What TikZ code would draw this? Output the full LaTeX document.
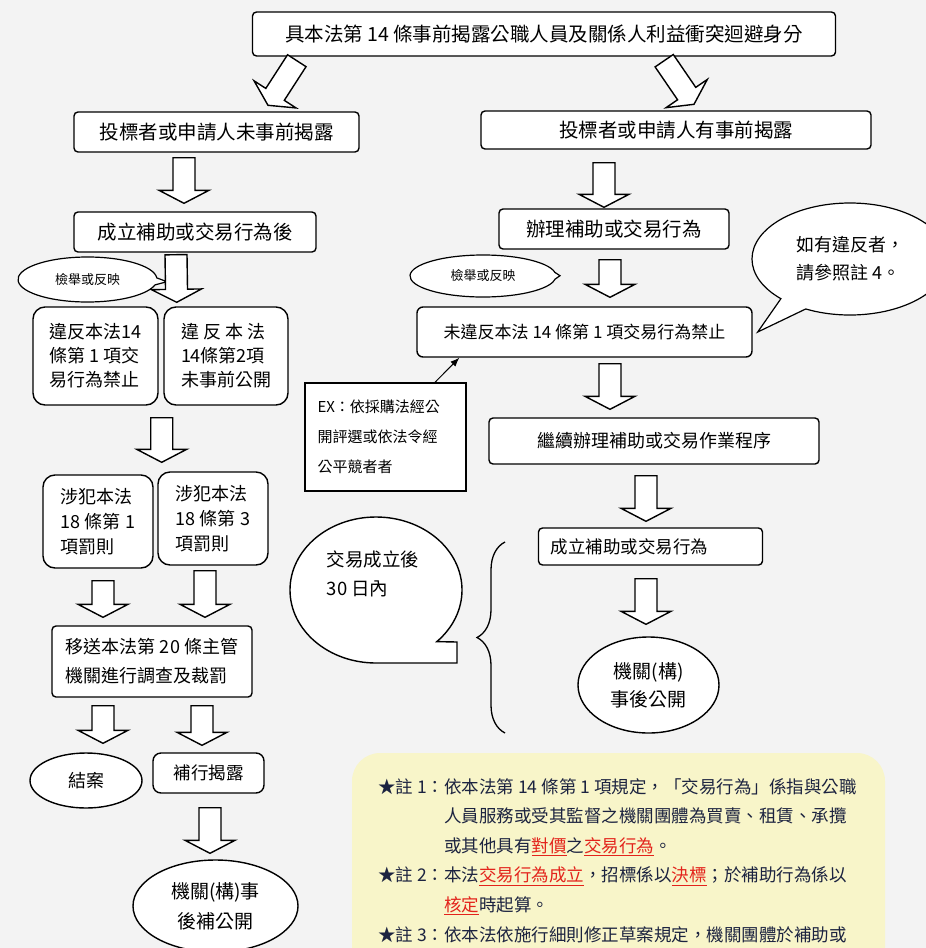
\documentclass[tikz,border=0pt]{standalone}
\usepackage{fontspec}
\setmainfont{Noto Sans CJK TC}
\usetikzlibrary{arrows.meta, positioning, calc, shapes.geometric, shapes.callouts, decorations.pathreplacing}

\definecolor{paper}{HTML}{F3F3F3}
\definecolor{notebg}{HTML}{F8F5C9}
\definecolor{notered}{HTML}{E3231B}
\definecolor{noteink}{HTML}{1C2340}

\newcommand{\redul}[1]{\textcolor{notered}{\underline{#1}}}
\newcommand{\hollowarrow}[2]{%
  \draw[blockarrow] let \p1=(#1), \p2=(#2), \n1={atan2(\y2-\y1,\x2-\x1)} in
    ($(\p1)+(\n1+90:11pt)$) -- ($(\p2)+(\n1+180:13pt)+(\n1+90:11pt)$)
    -- ($(\p2)+(\n1+180:13pt)+(\n1+90:25pt)$) -- (\p2)
    -- ($(\p2)+(\n1+180:13pt)+(\n1-90:25pt)$) -- ($(\p2)+(\n1+180:13pt)+(\n1-90:11pt)$)
    -- ($(\p1)+(\n1-90:11pt)$) -- cycle;}

\begin{document}
\begin{tikzpicture}[
    x=1pt, y=-1pt,
    box/.style={draw, fill=white, line width=1.4pt, rounded corners=4pt, inner sep=0pt, font=\fontsize{18}{24}\selectfont},
    bigbox/.style={box, font=\fontsize{19.5}{24}\selectfont},
    tallbox/.style={box, rounded corners=12pt, align=left},
    oval/.style={ellipse, draw, fill=white, line width=1.4pt, inner sep=0pt, align=center, font=\fontsize{18}{28}\selectfont},
    talk/.style={ellipse callout, draw, fill=white, line width=1.2pt, inner sep=0pt, callout pointer arc=18},
    blockarrow/.style={draw, fill=white, line width=1.4pt, line join=miter},
    notes/.style={inner sep=0pt, align=left, text=noteink, font=\fontsize{17.5}{29.6}\selectfont}
]
\useasboundingbox (0,0) rectangle (926,948);
\clip (0,0) rectangle (926,948);
\fill[paper] (0,0) rectangle (926,948);
\fill[notebg, rounded corners=28pt] (352,753) rectangle (885,990);

% 上方
\node[bigbox, minimum width=583pt, minimum height=44pt] (top) at (544,34) {具本法第 14 條事前揭露公職人員及關係人利益衝突迴避身分};
\node[bigbox, minimum width=285pt, minimum height=40pt] (nodisc) at (216.5,132) {投標者或申請人未事前揭露};
\node[bigbox, minimum width=390pt, minimum height=38pt] (disc) at (676,130) {投標者或申請人有事前揭露};
\node[bigbox, minimum width=242pt, minimum height=40pt] (after) at (195,232) {成立補助或交易行為後};
\node[bigbox, minimum width=230pt, minimum height=40pt] (handle) at (614,229) {辦理補助或交易行為};

% 左側
\node[tallbox, minimum width=125pt, minimum height=98pt] (vio1) at (95.5,356) {違反本法14\\條第 1 項交\\易行為禁止};
\node[tallbox, minimum width=124pt, minimum height=98pt] (vio2) at (226,356) {違 反 本 法\\14條第2項\\未事前公開};
\node[tallbox, minimum width=110pt, minimum height=93pt, font=\fontsize{18}{25}\selectfont] (pen1) at (98,521.5) {涉犯本法\\18 條第 1\\項罰則};
\node[tallbox, minimum width=110pt, minimum height=93pt, font=\fontsize{18}{25}\selectfont] (pen3) at (213,518.5) {涉犯本法\\18 條第 3\\項罰則};
\node[box, minimum width=200pt, minimum height=71pt, align=left, font=\fontsize{18}{29}\selectfont] (refer) at (152,661.5) {移送本法第 20 條主管\\機關進行調查及裁罰};
\node[oval, minimum width=112pt, minimum height=55pt] (close) at (86,780.5) {結案};
\node[box, minimum width=111pt, minimum height=40pt, rounded corners=8pt, font=\fontsize{17.5}{24}\selectfont] (supp) at (208.5,773) {補行揭露};
\node[oval, minimum width=165pt, minimum height=92pt, font=\fontsize{19}{30}\selectfont] (later) at (215.5,906) {機關(構)事\\後補公開};

% 右側
\node[box, minimum width=335pt, minimum height=50pt, rounded corners=6pt, font=\fontsize{17}{20}\selectfont] (novio) at (584.5,332) {未違反本法 14 條第 1 項交易行為禁止};
\node[box, sharp corners, minimum width=161pt, minimum height=108pt, text width=136pt, align=left, font=\fontsize{15}{30}\selectfont] (ex) at (385.5,437) {EX：依採購法經公\\開評選或依法令經\\公平競者者};
\node[box, minimum width=330pt, minimum height=46pt] (cont) at (654,441) {繼續辦理補助或交易作業程序};
\node[box, text width=200pt, align=left, inner xsep=12pt, minimum height=37pt, font=\fontsize{17.5}{22}\selectfont] (est) at (650.5,546.5) {成立補助或交易行為};
\node[oval, minimum width=141pt, minimum height=96pt, font=\fontsize{19}{28}\selectfont] (pub) at (648.5,685) {機關(構)\\事後公開};

% 對話框
\draw[line width=1.4pt, fill=white] (376,663) arc[start angle=90, end angle=405, x radius=86, y radius=73] -- (457,642) -- (457,663) -- cycle;
\node[align=left, font=\fontsize{18.5}{29}\selectfont] (within) at (373,574) {交易成立後\\30 日內};
\draw[decorate, decoration={brace, amplitude=28pt}, line width=1.3pt] (505,733) -- (505,542);

\node[talk, minimum width=139pt, minimum height=45pt, font=\fontsize{13}{13}\selectfont,
      callout absolute pointer={($(after.south)+(-28,29)$)}] (report1) at (87.5,279.5) {檢舉或反映};
\node[talk, minimum width=146pt, minimum height=42pt, font=\fontsize{13}{13}\selectfont,
      callout absolute pointer={($(handle.south)+(-54,26)$)}] (report2) at (483,276) {檢舉或反映};
\node[talk, minimum width=196pt, minimum height=112pt, align=left, font=\fontsize{18}{28}\selectfont,
      callout absolute pointer={([xshift=5pt]novio.east)}] (seenote) at (850,259) {如有違反者，\\請參照註 4。};

% 箭頭
\hollowarrow{$(top.south west)+(45,4)$}{$(nodisc.north)+(51.5,-6)$}
\hollowarrow{$(top.south east)+(-172,4)$}{$(disc.north)+(18,-6)$}
\hollowarrow{$(nodisc.south)+(-32.5,5)$}{$(after.north)+(-11,-8)$}
\hollowarrow{$(disc.south)+(-72,13)$}{$(handle.north)+(-10,-1)$}
\hollowarrow{$(after.south)+(-19,2)$}{$(vio1.north east)+(18,-4)$}
\hollowarrow{$(handle.south)+(-4,10)$}{$(novio.north)+(25.5,-9)$}
\hollowarrow{$(vio1.south east)+(3,12)$}{$(pen1.north east)+(8,-12)$}
\hollowarrow{$(novio.south)+(25.5,6)$}{$(cont.north)+(-44,-8)$}
\hollowarrow{$(cont.south)+(-8,11)$}{$(est.north)+(-4.5,-6)$}
\hollowarrow{$(est.south)+(-4.5,13)$}{$(pub.north)+(-2.5,-12)$}
\hollowarrow{$(pen1.south)+(5,12)$}{$(refer.north)+(-49,-8)$}
\hollowarrow{$(pen3.south)+(-8,5)$}{$(refer.north)+(53,-8)$}
\hollowarrow{$(refer.south)+(-49,8)$}{$(close.north)+(17,-9)$}
\hollowarrow{$(refer.south)+(50,8)$}{$(supp.north)+(-6.5,-7)$}
\hollowarrow{$(supp.south)+(1.5,14)$}{$(later.north)+(-5.5,-6)$}
\draw[-{Latex[length=9pt,width=7pt]}, line width=1pt] ([xshift=49.5pt]ex.north) -- ([xshift=43pt]novio.south west);

% 註
\node[notes, anchor=north west] (notelist) at (378,778) {★註 1：依本法第 14 條第 1 項規定，「交易行為」係指與公職\\
\phantom{★註 1：}人員服務或受其監督之機關團體為買賣、租賃、承攬\\
\phantom{★註 1：}或其他具有\redul{對價}之\redul{交易行為}。\\
★註 2：本法\redul{交易行為成立}，招標係以\redul{決標}；於補助行為係以\\
\phantom{★註 2：}\redul{核定}時起算。\\
★註 3：依本法依施行細則修正草案規定，機關團體於補助或};

\end{tikzpicture}
\end{document}
